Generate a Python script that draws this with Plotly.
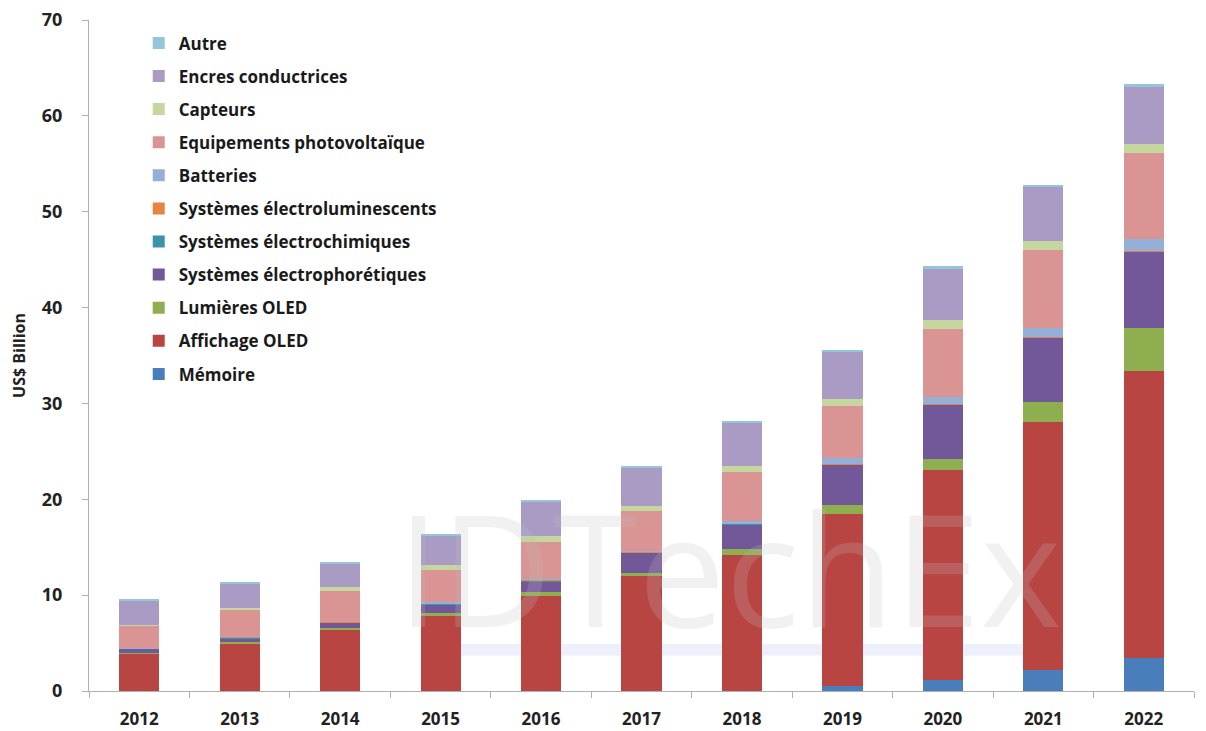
import plotly.graph_objects as go

years = ["2012", "2013", "2014", "2015", "2016", "2017", "2018", "2019", "2020", "2021", "2022"]

memoire = [0, 0, 0, 0, 0, 0, 0, 0.5, 1.1, 2.2, 3.4]
affichage_oled = [3.9, 5.0, 6.4, 7.9, 9.95, 12.0, 14.2, 18.0, 21.95, 25.9, 30.0]
lumieres_oled = [0.05, 0.15, 0.15, 0.2, 0.35, 0.3, 0.6, 0.9, 1.2, 2.1, 4.5]
electroluminescents = [0.0, 0.08, 0.05, 0.05, 0.1, 0.05, 0.05, 0.05, 0.05, 0.05, 0.05]
electrochimiques = [0.0, 0.07, 0.05, 0.05, 0.1, 0.05, 0.05, 0.05, 0.05, 0.05, 0.05]
electrophoretiques = [0.45, 0.37, 0.55, 0.95, 1.1, 2.15, 2.6, 4.2, 5.6, 6.65, 7.95]
batteries = [0.05, 0.05, 0.05, 0.1, 0.1, 0.1, 0.2, 0.65, 0.75, 0.95, 1.25]
photovoltaique = [2.35, 2.73, 3.15, 3.35, 3.85, 4.15, 5.15, 5.4, 7.1, 8.1, 8.9]
capteurs = [0.1, 0.25, 0.45, 0.5, 0.65, 0.5, 0.65, 0.75, 0.9, 0.9, 1.0]
encres = [2.55, 2.5, 2.45, 3.1, 3.55, 4.05, 4.55, 4.9, 5.4, 5.7, 5.9]
autre = [0.05, 0.1, 0.1, 0.1, 0.15, 0.15, 0.15, 0.2, 0.2, 0.2, 0.3]

series = [
    ("Mémoire", memoire, "#4a7ebb"),
    ("Affichage OLED", affichage_oled, "#b94542"),
    ("Lumières OLED", lumieres_oled, "#8fae4f"),
    ("Systèmes électrophorétiques", electrophoretiques, "#725799"),
    ("Systèmes électrochimiques", electrochimiques, "#3a93a8"),
    ("Systèmes électroluminescents", electroluminescents, "#e5853f"),
    ("Batteries", batteries, "#95b0d8"),
    ("Equipements photovoltaïque", photovoltaique, "#d99493"),
    ("Capteurs", capteurs, "#c5d79e"),
    ("Encres conductrices", encres, "#a99bc4"),
    ("Autre", autre, "#93c6d9"),
]

fig = go.Figure()
n = len(series)
for i, (name, vals, col) in enumerate(series):
    fig.add_trace(go.Bar(
        x=years, y=vals, name=name, legendgroup=name, legendrank=n - i,
        marker=dict(color=col, line=dict(width=0)),
    ))

# faint watermark
fig.add_shape(type="rect", xref="paper", yref="paper", x0=0.318, x1=0.853, y0=0.053, y1=0.07,
              fillcolor="rgba(215,225,245,0.5)", line=dict(width=0), layer="below")
fig.add_annotation(
    text="IDTechEx", x=0.58, y=0.025, xref="paper", yref="paper", yanchor="bottom",
    showarrow=False, font=dict(family="Open Sans", size=155, color="rgba(190,190,190,0.22)"),
)

fig.update_layout(
    width=1206, height=731,
    barmode="stack", bargap=0.6,
    paper_bgcolor="white", plot_bgcolor="white",
    margin=dict(l=89, r=12, t=20, b=40, autoexpand=False),
    font=dict(family="Open Sans", color="#222222"),
    showlegend=True,
    legend=dict(
        x=0.045, y=0.992, xanchor="left", yanchor="top",
        traceorder="grouped", tracegroupgap=8,
        font=dict(size=17, family="Open Sans", color="#1a1a1a", weight="bold"),
        bgcolor="rgba(0,0,0,0)", itemwidth=30,
    ),
    xaxis=dict(
        automargin=False,
        showline=True, linecolor="#b0b0b0", linewidth=1.2,
        ticks="outside", tickson="boundaries", ticklen=6, tickcolor="#b0b0b0",
        ticklabelstandoff=12,
        tickfont=dict(size=17, family="Open Sans", weight="bold", color="#222"),
        showgrid=False,
    ),
    yaxis=dict(
        automargin=False,
        range=[0, 70], dtick=10, showline=True, linecolor="#b0b0b0", linewidth=1.2,
        ticks="outside", ticklen=6, tickcolor="#b0b0b0", showgrid=False, zeroline=False,
        ticklabelstandoff=16,
        tickfont=dict(size=18, family="Open Sans", weight="bold", color="#222"),
        title=dict(text="US$ Billion", font=dict(size=16, family="Open Sans", weight="bold", color="#222"), standoff=12),
    ),
)

fig.write_html("out.html")
